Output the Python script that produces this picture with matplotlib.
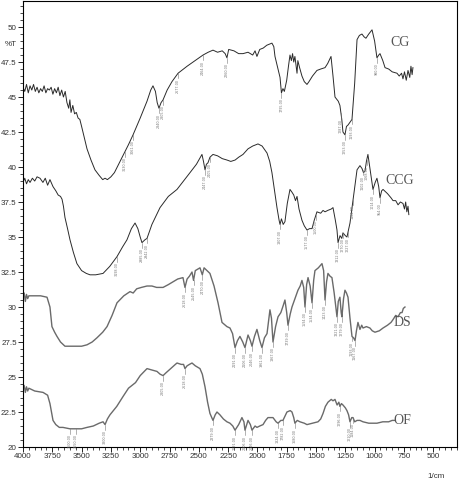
import numpy as np
import matplotlib
matplotlib.use("Agg")
import matplotlib.pyplot as plt
from matplotlib.ticker import MultipleLocator, FuncFormatter

# FTIR spectra, wavenumber (1/cm) vs %T
cg_w = [4000, 3985, 3970, 3955, 3940, 3925, 3910, 3895, 3880, 3865, 3850, 3835, 3820, 3805, 3790,
        3775, 3760, 3745, 3730, 3715, 3700, 3685, 3670, 3655, 3640, 3625, 3610, 3600, 3590, 3575,
        3560, 3545, 3530, 3515, 3500, 3480, 3454, 3420, 3386, 3350, 3320, 3300, 3280, 3250, 3220,
        3190, 3160, 3130, 3100, 3061, 3000, 2942, 2910, 2891, 2870, 2855, 2840, 2822, 2805, 2770,
        2729, 2677, 2600, 2516, 2464, 2420, 2379, 2340, 2300, 2275, 2260, 2245, 2200, 2160, 2123,
        2080, 2040, 2020, 2004, 1980, 1950, 1920, 1876, 1860, 1850, 1830, 1807, 1795, 1782, 1770,
        1750, 1735, 1722, 1710, 1700, 1690, 1680, 1670, 1662, 1655, 1640, 1620, 1600, 1577, 1560,
        1530, 1492, 1460, 1423, 1400, 1372, 1355, 1338, 1310, 1296, 1280, 1270, 1253, 1240, 1227,
        1193, 1170, 1150, 1130, 1108, 1090, 1074, 1050, 1022, 1000, 980, 965, 954, 930, 911,
        880, 850, 809, 790, 770, 758, 745, 730, 715, 700, 690, 680, 673]
cg_t = [45.7, 45.4, 45.9, 45.3, 45.8, 45.5, 45.9, 45.4, 45.7, 45.3, 45.6, 45.4, 45.8, 45.3, 45.6,
        45.5, 45.7, 45.2, 45.6, 45.3, 45.7, 45.1, 45.5, 45.0, 45.4, 44.6, 44.2, 44.8, 43.9, 44.4,
        43.8, 43.9, 43.5, 43.4, 42.9, 42.2, 41.3, 40.5, 39.8, 39.4, 39.1, 39.2, 39.1, 39.3, 39.6,
        40.1, 40.6, 41.1, 41.6, 42.3, 43.5, 44.7, 45.5, 45.8, 45.4, 44.6, 44.2, 44.6, 44.8, 45.5,
        46.1, 46.7, 47.2, 47.7, 48.0, 48.2, 48.35, 48.2, 48.3, 48.1, 47.8, 48.4, 48.3, 48.1, 48.1,
        48.2, 48.0, 48.3, 47.9, 48.4, 48.5, 48.7, 48.85, 48.6, 47.9, 47.2, 46.4, 45.3, 45.6, 45.4,
        46.2, 47.2, 48.0, 47.6, 48.1, 47.5, 47.9, 47.2, 46.7, 47.6, 47.1, 46.5, 46.1, 45.9, 46.1,
        46.5, 46.9, 47.0, 47.1, 47.4, 47.9, 46.5, 45.0, 44.7, 44.4, 43.4, 42.5, 42.3, 42.9, 43.0,
        43.4, 46.0, 49.1, 49.4, 49.5, 49.3, 49.2, 49.5, 49.8, 49.0, 47.8, 48.0, 48.1, 47.6, 47.1,
        47.0, 46.8, 46.7, 46.5, 46.7, 46.3, 46.8, 46.2, 46.9, 46.4, 47.2, 46.6, 47.1]

ccg_w = [4000, 3985, 3970, 3955, 3940, 3920, 3900, 3880, 3855, 3830, 3810, 3790, 3770, 3744, 3720,
         3700, 3680, 3667, 3655, 3642, 3620, 3599, 3570, 3540, 3500, 3460, 3428, 3380, 3317, 3260,
         3198, 3150, 3113, 3075, 3044, 3020, 3000, 2985, 2960, 2942, 2900, 2860, 2831, 2760, 2686,
         2630, 2575, 2520, 2473, 2460, 2447, 2435, 2422, 2405, 2379, 2340, 2300, 2260, 2227, 2190,
         2160, 2123, 2080, 2040, 1995, 1960, 1918, 1895, 1876, 1855, 1833, 1815, 1807, 1795, 1780,
         1765, 1745, 1722, 1705, 1690, 1675, 1662, 1645, 1620, 1600, 1577, 1555, 1534, 1515, 1492,
         1460, 1440, 1423, 1400, 1370, 1355, 1335, 1321, 1312, 1295, 1280, 1270, 1250, 1236, 1210,
         1180, 1150, 1125, 1108, 1095, 1082, 1070, 1057, 1040, 1014, 995, 980, 965, 954, 940,
         928, 890, 860, 843, 820, 800, 780, 758, 745, 735, 725, 715, 708]
ccg_t = [38.9, 39.2, 38.8, 39.1, 38.9, 39.2, 39.0, 39.3, 39.2, 38.9, 39.2, 38.7, 39.1, 38.6, 38.3,
         38.0, 37.9, 37.7, 37.2, 36.4, 35.6, 34.8, 33.9, 33.1, 32.6, 32.4, 32.3, 32.3, 32.4, 32.9,
         33.6, 34.3, 34.8, 35.6, 36.0, 35.6, 35.0, 34.6, 34.8, 34.9, 35.9, 36.6, 37.1, 37.9, 38.4,
         39.0, 39.6, 40.2, 40.9, 40.4, 39.8, 40.2, 40.3, 40.7, 40.9, 40.8, 40.6, 40.5, 40.4, 40.5,
         40.7, 40.9, 41.3, 41.5, 41.65, 41.5, 41.0, 40.4, 39.6, 38.4, 37.1, 36.2, 35.9, 36.3, 35.9,
         36.1, 37.4, 38.4, 38.2, 38.0, 37.6, 37.9, 37.0, 36.2, 35.8, 35.5, 35.6, 35.6, 36.2, 36.8,
         36.7, 36.9, 36.8, 36.9, 37.0, 37.1, 36.2, 35.5, 34.6, 35.1, 34.9, 35.3, 35.1, 35.0, 36.0,
         37.9, 39.8, 40.1, 39.9, 39.6, 39.7, 40.4, 40.9, 39.9, 38.4, 38.9, 39.2, 38.6, 37.8, 38.3,
         38.4, 38.1, 37.8, 37.6, 37.6, 37.3, 37.5, 37.4, 37.0, 37.5, 36.8, 37.2, 36.6]

ds_w = [4000, 3990, 3980, 3970, 3960, 3950, 3900, 3850, 3795, 3770, 3753, 3730, 3710, 3680, 3642,
        3600, 3550, 3500, 3454, 3410, 3369, 3320, 3283, 3240, 3198, 3140, 3087, 3060, 3030, 2990,
        2942, 2900, 2860, 2805, 2760, 2720, 2680, 2635, 2618, 2600, 2580, 2558, 2545, 2530, 2510,
        2490, 2470, 2455, 2430, 2405, 2370, 2336, 2302, 2260, 2234, 2212, 2191, 2170, 2149, 2125,
        2106, 2080, 2060, 2046, 2025, 2004, 1980, 1961, 1940, 1918, 1893, 1880, 1867, 1845, 1824,
        1800, 1780, 1765, 1750, 1739, 1720, 1705, 1680, 1654, 1635, 1620, 1605, 1594, 1580, 1568,
        1550, 1534, 1520, 1509, 1480, 1449, 1435, 1423, 1410, 1398, 1380, 1364, 1345, 1321, 1310,
        1296, 1285, 1279, 1265, 1253, 1240, 1227, 1210, 1193, 1180, 1167, 1155, 1142, 1125, 1110,
        1099, 1070, 1040, 1020, 997, 960, 928, 890, 860, 843, 820, 800, 780, 766, 755, 741]
ds_t = [30.7, 31.0, 30.4, 30.9, 30.6, 30.8, 30.8, 30.8, 30.7, 30.0, 28.6, 28.2, 27.9, 27.5, 27.2,
        27.2, 27.2, 27.2, 27.3, 27.5, 27.8, 28.2, 28.6, 29.4, 30.3, 30.8, 31.1, 31.0, 31.3, 31.4,
        31.5, 31.5, 31.4, 31.4, 31.6, 31.8, 32.0, 32.1, 31.4, 32.0, 32.2, 32.5, 31.9, 32.6, 32.7,
        32.8, 32.3, 32.8, 32.6, 32.4, 31.5, 30.3, 28.9, 28.6, 28.5, 28.1, 27.1, 27.6, 27.9, 27.5,
        27.1, 28.0, 27.6, 27.2, 27.9, 28.4, 27.6, 27.1, 27.8, 28.1, 29.8, 29.2, 27.5, 28.6, 29.3,
        29.6, 30.1, 30.5, 29.6, 28.7, 29.5, 30.0, 30.6, 31.2, 31.5, 31.9, 31.4, 30.0, 31.6, 32.1,
        31.5, 30.3, 31.9, 32.6, 32.8, 33.1, 32.6, 30.5, 31.8, 32.4, 32.2, 32.1, 31.0, 29.3, 30.4,
        30.7, 29.6, 29.3, 30.6, 31.2, 31.0, 30.7, 29.2, 27.9, 27.8, 27.6, 28.3, 28.9, 28.4, 28.7,
        28.5, 28.6, 28.5, 28.3, 28.2, 28.3, 28.5, 28.7, 28.9, 29.1, 29.4, 29.3, 29.6, 29.6, 29.9, 30.0]

of_w = [4000, 3990, 3980, 3970, 3960, 3950, 3900, 3829, 3790, 3770, 3744, 3720, 3690, 3659, 3600,
        3550, 3500, 3454, 3400, 3350, 3317, 3300, 3280, 3258, 3200, 3147, 3100, 3040, 3000, 2942,
        2900, 2857, 2830, 2805, 2780, 2740, 2700, 2686, 2650, 2630, 2618, 2600, 2580, 2558, 2530,
        2490, 2470, 2447, 2425, 2405, 2379, 2360, 2345, 2320, 2290, 2260, 2234, 2210, 2191, 2160,
        2132, 2115, 2106, 2080, 2060, 2046, 2020, 2004, 1980, 1952, 1930, 1910, 1867, 1840, 1824,
        1800, 1782, 1765, 1748, 1720, 1705, 1690, 1680, 1660, 1637, 1600, 1577, 1530, 1483, 1460,
        1440, 1420, 1398, 1370, 1355, 1338, 1320, 1305, 1296, 1283, 1270, 1250, 1236, 1222, 1210,
        1195, 1184, 1170, 1150, 1125, 1099, 1050, 1000, 980, 930, 880, 850, 826]
of_t = [24.1, 24.4, 23.9, 24.3, 24.0, 24.2, 24.0, 23.9, 23.7, 23.1, 21.9, 21.6, 21.4, 21.4, 21.3,
        21.3, 21.3, 21.4, 21.5, 21.7, 21.8, 21.6, 22.0, 22.3, 22.9, 23.6, 24.2, 24.6, 25.1, 25.6,
        25.5, 25.4, 25.2, 25.1, 25.3, 25.6, 25.9, 26.0, 25.9, 25.9, 25.6, 25.8, 25.9, 26.0, 25.8,
        25.6, 25.2, 24.3, 23.2, 22.4, 21.9, 22.3, 22.5, 22.3, 22.0, 21.8, 21.7, 21.5, 21.2, 21.6,
        22.1, 21.8, 21.2, 21.9, 21.6, 21.2, 21.5, 21.4, 21.5, 21.6, 21.9, 22.1, 22.1, 21.8, 21.7,
        21.9, 21.9, 22.2, 22.5, 22.6, 22.5, 22.1, 21.7, 21.9, 21.8, 21.7, 21.6, 21.7, 21.8, 22.0,
        22.4, 22.9, 23.2, 23.4, 23.3, 23.4, 23.0, 23.2, 22.9, 23.1, 23.0, 22.8, 22.6, 22.3, 21.8,
        22.1, 22.1, 21.8, 21.9, 21.9, 21.8, 21.7, 21.7, 21.7, 21.8, 21.8, 21.9, 21.9]

# peak markers
cg_peaks = [3130, 3061, 2840, 2805, 2677, 2464, 2260, 1795, 1287, 1253, 1193, 980]
ccg_peaks = [3198, 2985, 2942, 2447, 2405, 1807, 1577, 1500, 1312, 1270, 1227, 1184, 1102, 1068, 1014, 954]
ds_peaks = [2618, 2545, 2470, 2191, 2106, 2046, 1961, 1867, 1739, 1594, 1534, 1423, 1321, 1279, 1193, 1167]
of_peaks = [3600, 3550, 3300, 2805, 2618, 2379, 2191, 2106, 2046, 1824, 1782, 1680, 1296, 1210, 1184]

names = ['CG', 'CCG', 'DS', 'OF']
label_pos = [(400, 43), (400, 181), (402, 323), (402, 421)]  # figure pixels

fig = plt.figure(figsize=(4.6, 4.84), dpi=100)
ax = fig.add_axes([23 / 460, 37 / 484, 434 / 460, 446 / 484])

series = [(cg_w, cg_t, cg_peaks, '#2a2a2a', 0.7),
          (ccg_w, ccg_t, ccg_peaks, '#2a2a2a', 0.7),
          (ds_w, ds_t, ds_peaks, '#6a6a6a', 1.0),
          (of_w, of_t, of_peaks, '#6a6a6a', 1.0)]

for w, t, peaks, col, lw in series:
    ax.plot(w, t, color=col, lw=lw)
    w_arr = np.array(w)[::-1]
    t_arr = np.array(t)[::-1]
    for p in peaks:
        y = np.interp(p, w_arr, t_arr)
        ax.plot([p, p], [y, y - 0.35], color='#777777', lw=0.4)
        ax.text(p, y - 0.4, '%.2f' % p, rotation=90, fontsize=2.4, color='#777777',
                ha='center', va='top')

ax.set_xlim(4000, 297)
ax.set_ylim(20, 51.86)

ax.xaxis.set_major_locator(MultipleLocator(250))
ax.xaxis.set_minor_locator(MultipleLocator(50))
ax.yaxis.set_major_locator(MultipleLocator(2.5))
ax.yaxis.set_minor_locator(MultipleLocator(0.5))
ax.yaxis.set_major_formatter(FuncFormatter(lambda v, p: ('%g' % v)))
ax.xaxis.set_major_formatter(FuncFormatter(lambda v, p: ('%d' % v) if v >= 500 else ''))

tick_font = 'Liberation Sans'
ax.tick_params(which='major', direction='out', length=3.5, width=0.6, pad=1, labelsize=5.8,
               labelcolor='#333333')
ax.tick_params(which='minor', direction='out', length=2, width=0.5)
for lab in ax.get_xticklabels() + ax.get_yticklabels():
    lab.set_family(tick_font)
for s in ax.spines.values():
    s.set_linewidth(0.8)

fig.text(5 / 460, 1 - 44 / 484, '%T', fontsize=5.8, family=tick_font, ha='left', va='center',
         color='#333333')
fig.text(436 / 460, 1 - 477 / 484, '1/cm', fontsize=5.8, family=tick_font, ha='center',
         va='center', color='#333333')

for name, (px, py) in zip(names, label_pos):
    fig.text(px / 460, 1 - py / 484, name, fontsize=10, family='Liberation Serif',
             color='#555555', ha='center', va='center')

fig.savefig('out.png', dpi=100)
